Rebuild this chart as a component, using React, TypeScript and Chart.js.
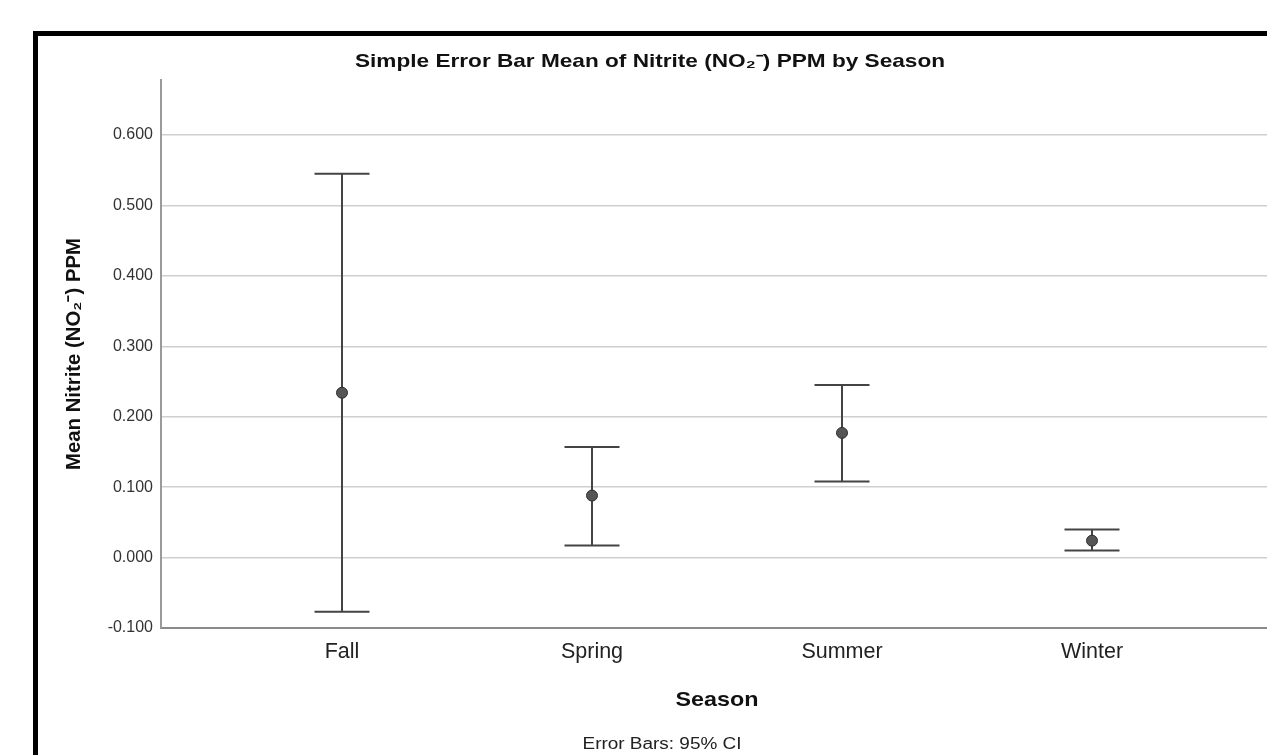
import React, { useEffect, useRef } from "react";
import { Chart, registerables } from "chart.js";

Chart.register(...registerables);

const categories = ["Fall", "Spring", "Summer", "Winter"];
const means = [0.234, 0.088, 0.177, 0.024];
const upper = [0.545, 0.157, 0.245, 0.04];
const lower = [-0.077, 0.017, 0.108, 0.01];
const yTicks = [-0.1, 0, 0.1, 0.2, 0.3, 0.4, 0.5, 0.6];

const titleText = "Simple Error Bar Mean of Nitrite (NO\u2082\u207B) PPM by Season";
const yTitleText = "Mean Nitrite (NO\u2082\u207B) PPM";
const xTitleText = "Season";
const footnoteText = "Error Bars: 95% CI";

const FONT = "Arial, 'Liberation Sans', sans-serif";

function drawFitted(ctx: CanvasRenderingContext2D, text: string, font: string, targetWidth: number) {
  ctx.font = font;
  const w = ctx.measureText(text).width;
  const sx = targetWidth / w;
  ctx.save();
  ctx.scale(sx, 1);
  ctx.fillText(text, 0, 0);
  ctx.restore();
}

const errorBarPlugin = {
  id: "errorBars",
  beforeDatasetsDraw(chart: any) {
    const { ctx, scales } = chart;
    const x = scales.x;
    const y = scales.y;
    ctx.save();
    ctx.strokeStyle = "#444444";
    ctx.lineWidth = 2;
    const half = 27.5;
    categories.forEach((_, i) => {
      const px = x.getPixelForValue(i);
      const top = y.getPixelForValue(upper[i]);
      const bot = y.getPixelForValue(lower[i]);
      ctx.beginPath();
      ctx.moveTo(px, top);
      ctx.lineTo(px, bot);
      ctx.moveTo(px - half, top);
      ctx.lineTo(px + half, top);
      ctx.moveTo(px - half, bot);
      ctx.lineTo(px + half, bot);
      ctx.stroke();
    });
    ctx.restore();
  },
};

const textPlugin = {
  id: "texts",
  afterDraw(chart: any) {
    const { ctx, chartArea } = chart;
    ctx.save();
    // frame
    ctx.fillStyle = "#000";
    ctx.fillRect(33, 31, 5, 755);
    ctx.fillRect(33, 31, 1267, 5);
    ctx.textAlign = "center";
    ctx.textBaseline = "middle";
    // title
    ctx.fillStyle = "#111";
    ctx.save();
    ctx.translate(650, 62);
    drawFitted(ctx, titleText, `bold 19px ${FONT}`, 590);
    ctx.restore();
    // x title
    ctx.save();
    ctx.translate((chartArea.left + chartArea.right) / 2 + 3, 700);
    drawFitted(ctx, xTitleText, `bold 21px ${FONT}`, 83);
    ctx.restore();
    // footnote
    ctx.fillStyle = "#222";
    ctx.save();
    ctx.translate(662, 745);
    drawFitted(ctx, footnoteText, `16px ${FONT}`, 159);
    ctx.restore();
    // y title
    ctx.fillStyle = "#111";
    ctx.save();
    ctx.translate(74, 354);
    ctx.rotate(-Math.PI / 2);
    drawFitted(ctx, yTitleText, `bold 20px ${FONT}`, 232);
    ctx.restore();
    ctx.restore();
  },
};

export default function App() {
  const ref = useRef<HTMLCanvasElement | null>(null);

  useEffect(() => {
    document.body.style.margin = "0";
    const canvas = ref.current;
    if (!canvas) return;
    const chart = new Chart(canvas, {
      type: "scatter",
      data: {
        datasets: [
          {
            data: means.map((m, i) => ({ x: i, y: m })),
            pointRadius: 5.5,
            pointBackgroundColor: "#555555",
            pointBorderColor: "#2f2f2f",
            pointBorderWidth: 1,
          },
        ],
      },
      options: {
        animation: false,
        responsive: false,
        maintainAspectRatio: false,
        layout: { autoPadding: false, padding: { top: 80, right: 0, bottom: 0, left: 0 } },
        plugins: {
          legend: { display: false },
          tooltip: { enabled: false },
          title: { display: false },
        },
        scales: {
          x: {
            type: "linear",
            min: -0.724,
            max: 3.7,
            grid: { display: false, drawTicks: false },
            border: { display: true, color: "#8a8a8a", width: 2 },
            afterBuildTicks: (s: any) => {
              s.ticks = categories.map((_, i) => ({ value: i }));
            },
            afterFit: (s: any) => {
              s.height = 127;
              s.paddingLeft = 0;
              s.paddingRight = 0;
            },
            ticks: {
              autoSkip: false,
              maxRotation: 0,
              padding: 11,
              color: "#222",
              font: { family: FONT, size: 21.5 },
              callback: (v: any) => categories[v as number] ?? "",
            },
          },
          y: {
            type: "linear",
            min: -0.1,
            max: 0.678,
            afterBuildTicks: (s: any) => {
              s.ticks = yTicks.map((v) => ({ value: v }));
            },
            afterFit: (s: any) => {
              s.width = 161;
              s.paddingTop = 0;
              s.paddingBottom = 0;
            },
            grid: {
              drawTicks: false,
              lineWidth: 1.5,
              color: (c: any) =>
                c.tick && Math.abs(c.tick.value + 0.1) < 1e-6 ? "rgba(0,0,0,0)" : "#cfcfcf",
            },
            border: { display: true, color: "#9a9a9a", width: 2 },
            ticks: {
              padding: 8,
              color: "#333",
              font: { family: FONT, size: 16 },
              callback: (v: any) => Number(v).toFixed(3),
            },
          },
        },
      },
      plugins: [errorBarPlugin, textPlugin],
    } as any);
    return () => chart.destroy();
  }, []);

  return (
    <div style={{ position: "absolute", left: 0, top: 0, width: 1267, height: 755 }}>
      <canvas ref={ref} width={1267} height={755} style={{ display: "block" }} />
    </div>
  );
}
